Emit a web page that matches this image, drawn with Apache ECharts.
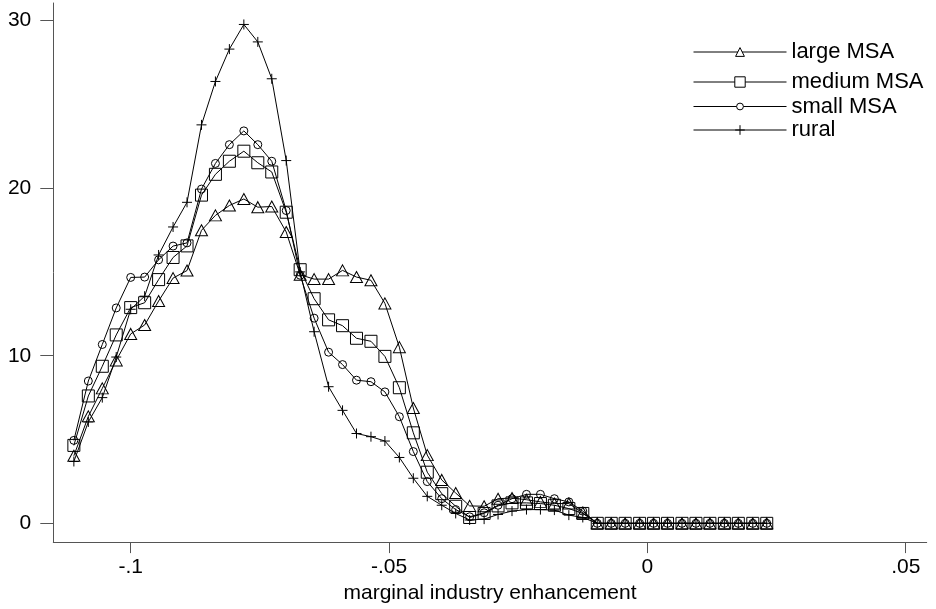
<!DOCTYPE html>
<html>
<head>
<meta charset="utf-8">
<script src="https://cdn.jsdelivr.net/npm/echarts@6/dist/echarts.min.js"></script>
<style>
html,body{margin:0;padding:0;background:#fff;}
#chart{width:936px;height:609px;}
</style>
</head>
<body>
<div id="chart"></div>
<script>
// x grid (marginal industry enhancement)
const xValues = [-0.1110,-0.1082,-0.1055,-0.1028,-0.1000,-0.0973,-0.0946,-0.0918,-0.0891,-0.0863,
  -0.0836,-0.0809,-0.0781,-0.0754,-0.0727,-0.0699,-0.0672,-0.0645,-0.0617,-0.0590,
  -0.0563,-0.0535,-0.0508,-0.0480,-0.0453,-0.0426,-0.0398,-0.0371,-0.0344,-0.0316,
  -0.0289,-0.0262,-0.0234,-0.0207,-0.0180,-0.0152,-0.0125,-0.0097,-0.0070,-0.0043,
  -0.0015,0.0012,0.0039,0.0067,0.0094,0.0121,0.0149,0.0176,0.0204,0.0231];

const largeMSA = [4.03,6.38,8.05,9.72,11.3,11.83,13.26,14.63,15.08,17.48,
  18.37,18.96,19.35,18.86,18.9,17.38,14.83,14.57,14.57,15.09,
  14.69,14.5,13.12,10.51,6.88,4.07,2.59,1.81,1.04,1.02,
  1.47,1.51,1.41,1.28,1.18,1.18,0.63,0,0,0,
  0,0,0,0,0,0,0,0,0,0];
const mediumMSA = [4.65,7.6,9.37,11.24,12.87,13.16,14.54,15.86,16.55,19.58,
  20.82,21.6,22.2,21.51,20.96,18.56,15.13,13.4,12.14,11.79,
  11.04,10.86,9.96,8.09,5.4,3.05,1.77,1.02,0.35,0.59,
  1.04,1.22,1.22,1.18,1.08,0.88,0.59,0,0,0,
  0,0,0,0,0,0,0,0,0,0];
const smallMSA = [4.95,8.49,10.67,12.85,14.67,14.69,15.72,16.54,16.73,19.94,
  21.47,22.59,23.41,22.59,21.6,18.66,14.8,12.24,10.21,9.47,
  8.54,8.45,7.84,6.36,4.28,2.49,1.47,0.82,0.39,0.63,
  1.08,1.47,1.73,1.73,1.47,1.28,0.73,0,0,0,
  0,0,0,0,0,0,0,0,0,0];
const rural = [3.69,6.05,7.5,9.92,12.77,13.55,16.01,17.68,19.15,23.77,
  26.36,28.29,29.76,28.72,26.52,21.64,15.0,11.43,8.15,6.74,
  5.36,5.17,4.91,3.93,2.69,1.61,1.08,0.59,0.2,0.25,
  0.53,0.73,0.82,0.82,0.79,0.49,0.35,0,0,0,
  0,0,0,0,0,0,0,0,0,0];

const seriesNames = ['large MSA','medium MSA','small MSA','rural'];
const xTickValues = [-0.1,-0.05,0,0.05];
const xTickLabels = ['-.1','-.05','0','.05'];
const yTickValues = [0,10,20,30];
const yTickLabels = ['0','10','20','30'];

const FONT = 'Liberation Sans, Arial, Helvetica, sans-serif';
const pair = ys => xValues.map((x,i)=>[x, ys[i]]);
const plusPath = 'path://M5,0L5,10M0,5L10,5';

const markerStyle = {color:'transparent', borderColor:'#000', borderWidth:1};
function mkSeries(name, ys, symbol, size){
  return {
    name: name, type:'line', data: pair(ys),
    symbol: symbol, symbolSize: size, showSymbol:true,
    lineStyle:{color:'#000', width:1},
    itemStyle: markerStyle,
    emphasis:{disabled:true},
    animation:false, z:2
  };
}
function mkLegend(name, top, itemHeight){
  return {
    data:[name], left:693, top: top, orient:'horizontal',
    itemWidth:93, itemHeight:itemHeight, padding:0, itemGap:0,
    itemStyle:{color:'#fff', borderColor:'#000', borderWidth:1},
    lineStyle:{color:'#000', width:1},
    textStyle:{fontSize:22, color:'#000', fontFamily:FONT},
    selectedMode:false
  };
}

const chart = echarts.init(document.getElementById('chart'), null, {renderer:'canvas'});
chart.setOption({
  backgroundColor:'#fff',
  animation:false,
  grid:{left:53.3, right:9.3, top:3, bottom:59.7, containLabel:false},
  legend:[
    mkLegend(seriesNames[0], 41, 11),
    mkLegend(seriesNames[1], 71, 13),
    mkLegend(seriesNames[2], 95.5, 8.5),
    mkLegend(seriesNames[3], 119, 12)
  ],
  xAxis:{
    type:'value', min:-0.11498, max:0.05406,
    name:'marginal industry enhancement', nameLocation:'middle', nameGap:33,
    nameTextStyle:{fontSize:21, color:'#000', fontFamily:FONT},
    axisLine:{show:true, onZero:false, lineStyle:{color:'#555', width:1}},
    axisTick:{show:true, length:11, customValues:xTickValues, lineStyle:{color:'#555', width:1}},
    axisLabel:{customValues:xTickValues, margin:15, fontSize:21, color:'#000', fontFamily:FONT,
      formatter: v => { const k = xTickValues.findIndex(t=>Math.abs(t-v)<1e-9); return k>=0 ? xTickLabels[k] : ''; }},
    splitLine:{show:false}
  },
  yAxis:{
    type:'value', min:-1.119, max:31.04,
    axisLine:{show:true, onZero:false, lineStyle:{color:'#555', width:1}},
    axisTick:{show:true, length:13, customValues:yTickValues, lineStyle:{color:'#555', width:1}},
    axisLabel:{customValues:yTickValues, margin:22, fontSize:21, color:'#000', fontFamily:FONT,
      formatter: v => { const k = yTickValues.findIndex(t=>Math.abs(t-v)<1e-9); return k>=0 ? yTickLabels[k] : ''; }},
    splitLine:{show:false}
  },
  series:[
    mkSeries(seriesNames[0], largeMSA, 'triangle', [12,11]),
    mkSeries(seriesNames[1], mediumMSA, 'rect', 12),
    mkSeries(seriesNames[2], smallMSA, 'circle', 8),
    mkSeries(seriesNames[3], rural, plusPath, 10)
  ]
});
</script>
</body>
</html>
